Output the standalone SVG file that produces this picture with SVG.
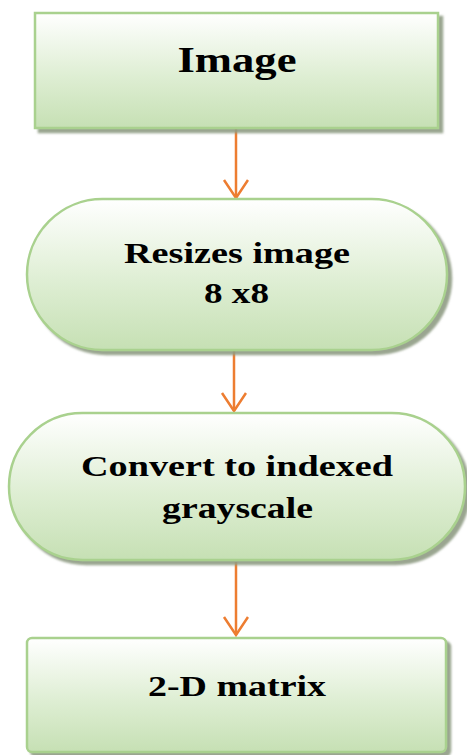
<svg xmlns="http://www.w3.org/2000/svg" width="467" height="755" viewBox="0 0 467 755">
<defs>
<linearGradient id="g" x1="0" y1="0" x2="0" y2="1">
<stop offset="0" stop-color="#ffffff"/>
<stop offset="0.55" stop-color="#deeed3"/>
<stop offset="1" stop-color="#c6e0b4"/>
</linearGradient>
<filter id="sh" x="-10%" y="-10%" width="125%" height="130%">
<feGaussianBlur in="SourceAlpha" stdDeviation="1.2"/>
<feOffset dx="4" dy="4" result="b"/>
<feFlood flood-color="#8f9c84" flood-opacity="0.9"/>
<feComposite in2="b" operator="in"/>
<feMerge><feMergeNode/><feMergeNode in="SourceGraphic"/></feMerge>
</filter>
<marker id="ah" markerWidth="22" markerHeight="28" refX="19" refY="13" orient="auto" markerUnits="userSpaceOnUse">
<path d="M1,1 L19,13 L1,25" fill="none" stroke="#ed7d31" stroke-width="2.5"/>
</marker>
</defs>
<style>
.n{fill:url(#g);stroke:#a9d18e;stroke-width:2.5;filter:url(#sh)}
.t{font-family:"Liberation Serif","Times New Roman",serif;font-weight:bold;fill:#000;text-anchor:middle}
.c{stroke:#ed7d31;stroke-width:2.5;fill:none;marker-end:url(#ah)}
</style>
<g id="connectors">
<line class="c" x1="236" y1="129" x2="236" y2="198"/>
<line class="c" x1="234" y1="351" x2="234" y2="411"/>
<line class="c" x1="236" y1="562" x2="236" y2="635"/>
</g>
<g id="node-image">
<rect class="n" x="35" y="13" width="403" height="115"/>
<text class="t" x="237" y="72" font-size="36" textLength="119" lengthAdjust="spacingAndGlyphs">Image</text>
</g>
<g id="node-resize">
<rect class="n" x="27" y="199" width="420" height="151" rx="75.5" ry="75.5"/>
<text class="t" x="237" y="263" font-size="29" textLength="226" lengthAdjust="spacingAndGlyphs">Resizes image</text>
<text class="t" x="236.5" y="303" font-size="29" textLength="65" lengthAdjust="spacingAndGlyphs">8 x8</text>
</g>
<g id="node-convert">
<rect class="n" x="9" y="413" width="456" height="147" rx="73.5" ry="73.5"/>
<text class="t" x="237" y="476" font-size="29" textLength="312" lengthAdjust="spacingAndGlyphs">Convert to indexed</text>
<text class="t" x="237.5" y="518" font-size="29" textLength="151" lengthAdjust="spacingAndGlyphs">grayscale</text>
</g>
<g id="node-matrix">
<rect class="n" x="27" y="638" width="419" height="114" rx="5" ry="5"/>
<text class="t" x="237" y="696" font-size="29" textLength="178" lengthAdjust="spacingAndGlyphs">2-D matrix</text>
</g>
</svg>
